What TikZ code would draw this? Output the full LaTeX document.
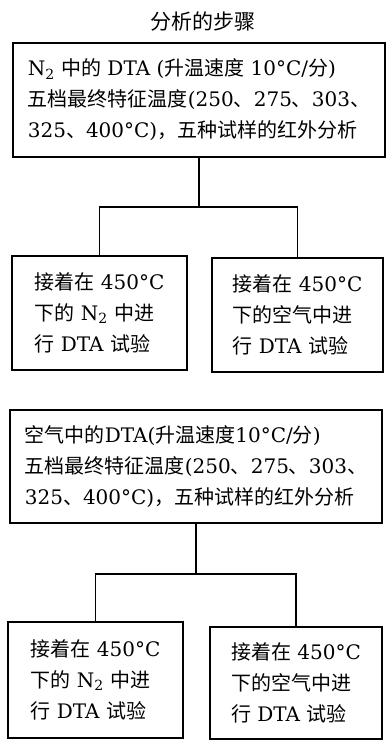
\documentclass[tikz,border=0pt]{standalone}
\usepackage{fontspec}
\setmainfont{DejaVu Serif}
\newfontfamily\cjk{Noto Sans CJK SC}
\newcommand\zh[1]{{\cjk #1}}
\begin{document}
\begin{tikzpicture}[x=1pt,y=-1pt,
  stepbox/.style={draw, line width=1.2pt, align=left, inner sep=0pt,
    font=\fontsize{20}{31}\selectfont},
  link/.style={line width=1.2pt}]
\useasboundingbox (0,0) rectangle (386,741);
\node[font=\fontsize{21}{24}\selectfont] (title) at (203,22) {\zh{分析的步骤}};
% first group
\node[stepbox, minimum width=372pt, minimum height=114pt] (b1) at (199,100)
  {N\textsubscript{2} \zh{中的} DTA (\zh{升温速度} 10°C/\zh{分})\\
   \zh{五档最终特征温度}(250\zh{、}275\zh{、}303\zh{、}\\
   325\zh{、}400°C)\zh{，五种试样的红外分析}};
\node[stepbox, minimum width=175pt, minimum height=114pt] (l1) at (99.5,313)
  {\zh{接着在} 450°C\\ \zh{下的} N\textsubscript{2} \zh{中进}\\ \zh{行} DTA \zh{试验}};
\node[stepbox, minimum width=171pt, minimum height=114pt] (r1) at (297.5,315)
  {\zh{接着在} 450°C\\ \zh{下的空气中进}\\ \zh{行} DTA \zh{试验}};
\coordinate (j1) at (199,207);
\draw[link] (b1.south) -- (j1);
\draw[link] (l1.north) |- (j1) -| (r1.north);
% second group
\node[stepbox, minimum width=372pt, minimum height=113pt] (b2) at (196,466.5)
  {\zh{空气中的}DTA(\zh{升温速度}10°C/\zh{分})\\
   \zh{五档最终特征温度}(250\zh{、}275\zh{、}303\zh{、}\\
   325\zh{、}400°C)\zh{，五种试样的红外分析}};
\node[stepbox, minimum width=175pt, minimum height=116pt] (l2) at (95.5,680)
  {\zh{接着在} 450°C\\ \zh{下的} N\textsubscript{2} \zh{中进}\\ \zh{行} DTA \zh{试验}};
\node[stepbox, minimum width=172pt, minimum height=112pt] (r2) at (296,683)
  {\zh{接着在} 450°C\\ \zh{下的空气中进}\\ \zh{行} DTA \zh{试验}};
\coordinate (j2) at (196,574);
\draw[link] (b2.south) -- (j2);
\draw[link] (l2.north) |- (j2) -| (r2.north);
\end{tikzpicture}
\end{document}
